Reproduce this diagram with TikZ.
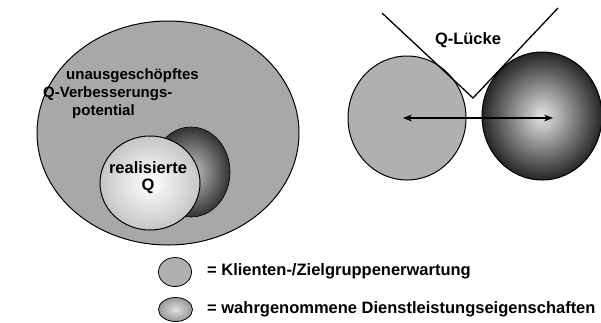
\documentclass[tikz,border=0pt]{standalone}
\usepackage{fontspec}
\setmainfont{Liberation Sans}
\usetikzlibrary{arrows.meta}
\begin{document}
\begin{tikzpicture}[x=1pt,y=-1pt,
  lbl/.style={font=\bfseries\fontsize{16.5}{17}\selectfont, inner sep=0pt},
  lbls/.style={font=\bfseries\fontsize{15}{16}\selectfont, inner sep=0pt, anchor=west},
  legtext/.style={font=\bfseries\fontsize{16.5}{18}\selectfont, anchor=west, inner sep=0pt},
  outl/.style={draw=black, line width=1pt}]
\useasboundingbox (0,0) rectangle (601,322);
% left big ellipse
\fill[gray!68, outl] (168,133) ellipse [x radius=131, y radius=112];
% dark ellipse behind
\shade[inner color=gray!45, outer color=black!80] (191,172) ellipse [x radius=39, y radius=45];
\draw[line width=0.6pt] (191,172) ellipse [x radius=39, y radius=45];
% realized Q ellipse
\shade[inner color=white, outer color=gray!45] (150,183) ellipse [x radius=50, y radius=47];
\draw[line width=1pt] (150,183) ellipse [x radius=50, y radius=47];
\node[lbls] (t1) at (66,76) {unausgeschöpftes};
\node[lbls] (t2) at (43,94) {Q-Verbesserungs-};
\node[lbls] (t3) at (72,112) {potential};
\node[lbl, align=center] (rq) at (148,178) {realisierte\\[0pt]Q};
% right part
\fill[gray!62, outl] (407,118) ellipse [x radius=59, y radius=62];
\shade[inner color=gray!20, outer color=black!85] (542,116) ellipse [x radius=60, y radius=64];
\draw[line width=1pt] (542,116) ellipse [x radius=60, y radius=64];
\coordinate (v1) at (382,13);
\coordinate (v2) at (473,98);
\coordinate (v3) at (558,8);
\draw[line width=1.3pt] (v1) -- (v2) -- (v3);
\node[lbl] (ql) at (468,40) {Q-Lücke};
\coordinate (a1) at (403,118);
\coordinate (a2) at (553,118);
\draw[line width=1.2pt, {Stealth[length=9pt,width=7pt]}-{Stealth[length=9pt,width=7pt]}] (a1) -- (a2);
% legend
\fill[gray!62, line width=0.8pt, draw=black] (175,272) ellipse [x radius=16.5, y radius=14.5];
\shade[inner color=gray!25, outer color=gray!80] (175.5,309.5) ellipse [x radius=17, y radius=12];
\draw[line width=0.8pt] (175.5,309.5) ellipse [x radius=17, y radius=12];
\node[legtext] (l1) at (207,271) {= Klienten-/Zielgruppenerwartung};
\node[legtext] (l2) at (207,309) {= wahrgenommene Dienstleistungseigenschaften};
\end{tikzpicture}
\end{document}
